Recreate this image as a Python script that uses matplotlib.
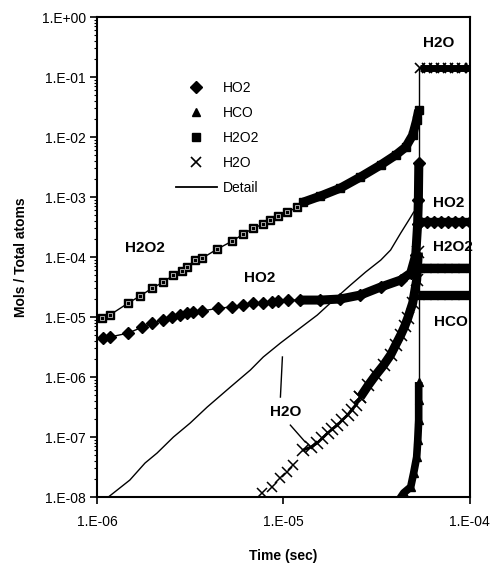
import math
import matplotlib
matplotlib.use('Agg')
import matplotlib.pyplot as plt
from matplotlib.lines import Line2D
from matplotlib.ticker import FuncFormatter, LogLocator, NullFormatter

plt.rcParams['font.family'] = ['Liberation Sans', 'DejaVu Sans']

# ---------------- data ----------------
# H2O2 (squares)
h2o2_t_sparse = [1.06e-6, 1.17e-6, 1.47e-6, 1.70e-6, 1.98e-6, 2.27e-6, 2.57e-6, 2.87e-6, 3.05e-6, 3.37e-6,
                 3.67e-6, 4.42e-6, 5.32e-6, 6.10e-6, 6.90e-6, 7.80e-6, 8.51e-6, 9.40e-6, 1.05e-5, 1.19e-5]
h2o2_c_sparse = [9.6e-6, 1.08e-5, 1.71e-5, 2.24e-5, 3.04e-5, 3.83e-5, 5.0e-5, 5.85e-5, 6.8e-5, 8.9e-5,
                 9.6e-5, 1.36e-4, 1.85e-4, 2.42e-4, 3.04e-4, 3.55e-4, 4.14e-4, 4.82e-4, 5.62e-4, 6.8e-4]
h2o2_t_dense = [1.28e-5, 1.58e-5, 2.02e-5, 2.59e-5, 3.32e-5, 4.00e-5, 4.53e-5, 4.94e-5, 5.19e-5, 5.32e-5]
h2o2_c_dense = [8.25e-4, 1.04e-3, 1.41e-3, 2.16e-3, 3.42e-3, 5.0e-3, 6.8e-3, 1.08e-2, 1.92e-2, 2.82e-2]

# HO2 (diamonds)
ho2_t_sparse = [1.08e-6, 1.17e-6, 1.47e-6, 1.75e-6, 1.98e-6, 2.27e-6, 2.53e-6, 2.79e-6, 3.05e-6, 3.28e-6,
                3.67e-6, 4.48e-6, 5.32e-6, 6.10e-6, 6.90e-6, 7.80e-6, 8.73e-6, 9.40e-6, 1.06e-5]
ho2_c_sparse = [4.47e-6, 4.64e-6, 5.41e-6, 6.8e-6, 7.94e-6, 8.9e-6, 1.0e-5, 1.08e-5, 1.17e-5, 1.21e-5,
                1.26e-5, 1.41e-5, 1.47e-5, 1.58e-5, 1.71e-5, 1.71e-5, 1.78e-5, 1.85e-5, 1.92e-5]
ho2_t_dense = [1.23e-5, 1.58e-5, 2.02e-5, 2.59e-5, 3.32e-5, 4.26e-5, 4.82e-5, 5.13e-5, 5.25e-5, 5.30e-5, 5.33e-5]
ho2_c_dense = [1.92e-5, 1.92e-5, 2.0e-5, 2.33e-5, 3.16e-5, 4.14e-5, 5.41e-5, 1.08e-4, 3.5e-4, 8.9e-4, 3.7e-3]

# H2O (crosses)
h2o_t_sparse = [7.71e-6, 8.73e-6, 9.64e-6, 1.05e-5, 1.13e-5]
h2o_c_sparse = [1.17e-8, 1.47e-8, 2.07e-8, 2.61e-8, 3.41e-8]
h2o_t_hatch = [1.28e-5, 1.40e-5, 1.52e-5, 1.62e-5, 1.73e-5, 1.83e-5, 1.95e-5, 2.07e-5, 2.21e-5, 2.32e-5,
               2.44e-5, 2.59e-5]
h2o_c_hatch = [6.07e-8, 6.8e-8, 7.94e-8, 9.6e-8, 1.17e-7, 1.36e-7, 1.58e-7, 1.92e-7, 2.33e-7, 2.82e-7,
               3.41e-7, 4.64e-7]
h2o_t_dense = [2.59e-5, 2.86e-5, 3.13e-5, 3.45e-5, 3.76e-5, 4.00e-5, 4.26e-5, 4.48e-5, 4.65e-5, 4.94e-5,
               5.19e-5, 5.30e-5]
h2o_c_dense = [4.64e-7, 7.36e-7, 1.08e-6, 1.58e-6, 2.33e-6, 3.41e-6, 5.0e-6, 7.08e-6, 9.6e-6, 1.71e-5,
               4.14e-5, 1.2e-4]

# HCO (triangles)
hco_t = [4.00e-5, 4.42e-5, 4.82e-5, 5.00e-5, 5.19e-5, 5.26e-5, 5.32e-5, 5.32e-5, 5.32e-5]
hco_c = [7.4e-9, 1.17e-8, 1.47e-8, 2.51e-8, 4.64e-8, 8.9e-8, 1.92e-7, 4.14e-7, 8.26e-7]

# steady state after ignition
ss_t = [5.40e-5, 5.9e-5, 6.4e-5, 7.0e-5, 7.6e-5, 8.3e-5, 9.1e-5, 1.0e-4]
h2o_ss = 0.141
ho2_ss = 3.83e-4
h2o2_ss = 6.6e-5
hco_ss = 2.33e-5

# Detail line (H2O fine calculation)
detail_h2o_t = [1.0e-6, 1.15e-6, 1.50e-6, 1.81e-6, 2.10e-6, 2.57e-6, 3.16e-6, 3.90e-6, 5.19e-6, 6.65e-6,
                7.80e-6, 9.64e-6, 1.19e-5, 1.52e-5, 1.86e-5, 2.29e-5, 2.76e-5, 3.33e-5, 3.76e-5, 4.26e-5,
                4.82e-5, 5.0e-5]
detail_h2o_c = [7.0e-9, 1.0e-8, 1.92e-8, 3.69e-8, 5.41e-8, 1.0e-7, 1.71e-7, 3.16e-7, 6.8e-7, 1.31e-6,
                2.16e-6, 3.69e-6, 6.07e-6, 1.08e-5, 1.92e-5, 3.41e-5, 5.62e-5, 8.9e-5, 1.31e-4, 2.51e-4,
                4.64e-4, 5.62e-4]
detail_jump_t = [5.33e-5, 5.33e-5]
detail_jump_c = [0.141, 8.26e-7]

# ---------------- figure ----------------
fig = plt.figure(figsize=(4.95, 5.70), dpi=100)
ax = fig.add_axes([0.196, 0.128, 0.753, 0.842])
ax.set_xscale('log')
ax.set_yscale('log')
ax.set_xlim(1e-6, 1e-4)
ax.set_ylim(1e-8, 1.0)

k = 'black'
# Detail line
ax.plot(detail_h2o_t, detail_h2o_c, color=k, lw=1.0, zorder=2)
ax.plot(h2o2_t_sparse + h2o2_t_dense, h2o2_c_sparse + h2o2_c_dense, color=k, lw=1.0, zorder=2)
ax.plot(ho2_t_sparse + ho2_t_dense, ho2_c_sparse + ho2_c_dense, color=k, lw=1.0, zorder=2)
ax.plot(detail_jump_t, detail_jump_c, color=k, lw=1.0, zorder=2)

# H2O2 squares
ax.plot(h2o2_t_sparse, h2o2_c_sparse, ls='none', marker='s', ms=6.2, mfc=k, mec=k, zorder=4)
ax.plot(h2o2_t_sparse, h2o2_c_sparse, ls='none', marker='s', ms=3.4, mfc='none', mec='white', mew=0.45, zorder=5)
ax.plot(h2o2_t_dense, h2o2_c_dense, ls='-', lw=6.5, color=k, marker='s', ms=6, zorder=4, solid_capstyle='butt')
ax.plot(ss_t, [h2o2_ss] * len(ss_t), ls='-', lw=6, color=k, marker='s', ms=6, zorder=4, solid_capstyle='butt')

# HO2 diamonds
ax.plot(ho2_t_sparse, ho2_c_sparse, ls='none', marker='D', ms=6, color=k, zorder=4)
ax.plot(ho2_t_dense, ho2_c_dense, ls='-', lw=6.5, color=k, marker='D', ms=6, zorder=4, solid_capstyle='butt')
ax.plot(ss_t, [ho2_ss] * len(ss_t), ls='-', lw=6, color=k, marker='D', ms=6, zorder=4, solid_capstyle='butt')

# H2O crosses
ax.plot(h2o_t_sparse, h2o_c_sparse, ls='none', marker='x', ms=7, mew=1.1, color=k, zorder=4)
ax.plot(h2o_t_hatch, h2o_c_hatch, ls='-', lw=2.0, color=k, marker='x', ms=8.5, mew=1.1, zorder=4)
ax.plot(h2o_t_dense, h2o_c_dense, ls='-', lw=6.5, color=k, marker='x', ms=8, mew=1.1, zorder=4,
        solid_capstyle='butt')
ax.plot(ss_t, [h2o_ss] * len(ss_t), ls='-', lw=5, color=k, marker='x', ms=7, mew=1.2, zorder=4,
        solid_capstyle='butt')

# HCO triangles
ax.plot(hco_t, hco_c, ls='-', lw=5.5, color=k, marker='^', ms=6, zorder=4, solid_capstyle='butt')
ax.plot(ss_t, [hco_ss] * len(ss_t), ls='-', lw=6, color=k, marker='^', ms=6, zorder=4, solid_capstyle='butt')

# annotations
bold = dict(fontsize=11, fontweight='bold', ha='center', va='center')
ax.text(6.8e-5, 0.369, 'H2O', **bold)
ax.text(7.7e-5, 7.9e-4, 'HO2', **bold)
ax.text(8.1e-5, 1.47e-4, 'H2O2', **bold)
ax.text(7.9e-5, 8.26e-6, 'HCO', **bold)
ax.text(1.81e-6, 1.41e-4, 'H2O2', **bold)
ax.text(7.5e-6, 4.47e-5, 'HO2', **bold)
ax.text(1.03e-5, 2.61e-7, 'H2O', **bold)
ax.plot([9.64e-6, 9.88e-6], [4.64e-7, 2.16e-6], color=k, lw=1.0, zorder=3)
ax.plot([1.09e-5, 1.31e-5], [1.58e-7, 8.26e-8], color=k, lw=1.0, zorder=3)

# axes styling
for s in ax.spines.values():
    s.set_linewidth(1.5)
ax.xaxis.set_major_locator(LogLocator(base=10, numticks=10))
ax.xaxis.set_minor_locator(LogLocator(base=10, subs=[], numticks=10))
ax.xaxis.set_minor_formatter(NullFormatter())
ax.yaxis.set_major_locator(LogLocator(base=10, numticks=20))
ax.yaxis.set_minor_locator(LogLocator(base=10, subs=list(range(2, 10)), numticks=20))
ax.yaxis.set_minor_formatter(NullFormatter())


def fmt(v, pos):
    e = int(round(math.log10(v)))
    return '1.E%s%02d' % ('+' if e >= 0 else '-', abs(e))


ax.xaxis.set_major_formatter(FuncFormatter(fmt))
ax.yaxis.set_major_formatter(FuncFormatter(fmt))
ax.tick_params(axis='both', which='major', direction='out', length=5, width=1.2, labelsize=10, pad=3)
ax.tick_params(axis='y', which='minor', direction='out', length=2.5, width=0.8)
ax.tick_params(axis='x', which='major', pad=8)

ax.set_xlabel('Time (sec)', fontsize=10, fontweight='bold', labelpad=14)
ax.set_ylabel('Mols / Total atoms', fontsize=10, fontweight='bold', labelpad=10)

handles = [
    Line2D([], [], ls='none', marker='D', ms=6, color=k),
    Line2D([], [], ls='none', marker='^', ms=6, color=k),
    Line2D([], [], ls='none', marker='s', ms=6, color=k),
    Line2D([], [], ls='none', marker='x', ms=7, mew=1.2, color=k),
    Line2D([], [], color=k, lw=1.3),
]
labels = ['HO2', 'HCO', 'H2O2', 'H2O', 'Detail']
fig.legend(handles, labels, loc='upper left', bbox_to_anchor=(170 / 495, 1 - 75 / 570), frameon=False,
           fontsize=10, handlelength=3.0, handletextpad=0.4, labelspacing=0.8, borderaxespad=0)

fig.savefig('out.png', dpi=100)
